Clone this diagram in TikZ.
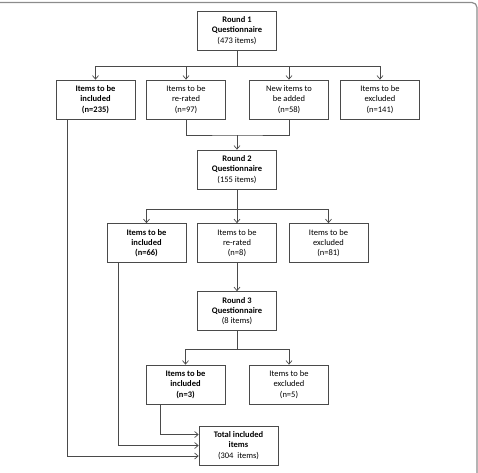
\documentclass[tikz,border=0pt]{standalone}
\usepackage{fontspec}
\setmainfont{Carlito}
\usepackage{tikz}
\usetikzlibrary{calc,arrows.meta}

\definecolor{linegray}{HTML}{4A4A4A}
\definecolor{framegray}{HTML}{8C8C8C}

\begin{document}
\begin{tikzpicture}[x=1pt, y=-1pt, >={Straight Barb[length=3.5pt,width=6pt]},
        box/.style={draw=linegray, line width=0.7pt, fill=white, minimum width=79pt,
            minimum height=39pt, align=center, inner sep=1pt,
            font=\fontsize{8.5}{10.2}\selectfont},
        link/.style={draw=linegray, line width=0.7pt}]
        \useasboundingbox (0,0) rectangle (478,472);

        % Outer frame
        \draw[framegray, line width=1.2pt, rounded corners=5pt] (0,2.5) -- (477,2.5) -- (477,473);

        % Round 1
        \node[box] (r1) at (237,30.5) {\textbf{Round 1}\\\textbf{Questionnaire}\\(473 items)};
        \node[box] (inc1) at (95.5,99.5) {\textbf{Items to be}\\\textbf{included}\\\textbf{(n=235)}};
        \node[box] (rer1) at (186,99.5) {Items to be\\re-rated\\(n=97)};
        \node[box] (new1) at (289,99.5) {New items to\\be added\\(n=58)};
        \node[box] (exc1) at (380,99.5) {Items to be\\excluded\\(n=141)};

        \coordinate (b1) at (237,66);
        \draw[link] (r1.south) -- (b1);
        \draw[link, ->] (b1) -| (inc1.north);
        \draw[link, ->] (b1) -| (rer1.north);
        \draw[link, ->] (b1) -| (new1.north);
        \draw[link, ->] (b1) -| (exc1.north);

        % Round 2
        \node[box] (r2) at (237,169.5) {\textbf{Round 2}\\\textbf{Questionnaire}\\(155 items)};
        \coordinate (m1) at (237,135);
        \draw[link] (rer1.south) |- (m1) -| (new1.south);
        \draw[link, ->] (m1) -- (r2.north);

        \node[box] (inc2) at (146.5,243) {\textbf{Items to be}\\\textbf{included}\\\textbf{(n=66)}};
        \node[box] (rer2) at (237,243) {Items to be\\re-rated\\(n=8)};
        \node[box] (exc2) at (328.5,243) {Items to be\\excluded\\(n=81)};

        \coordinate (b2) at (237,209);
        \draw[link] (r2.south) -- (b2);
        \draw[link, ->] (b2) -| (inc2.north);
        \draw[link, ->] (b2) -- (rer2.north);
        \draw[link, ->] (b2) -| (exc2.north);

        % Round 3
        \node[box] (r3) at (237,311) {\textbf{Round 3}\\\textbf{Questionnaire}\\(8 items)};
        \draw[link, ->] (rer2.south) -- (r3.north);

        \node[box] (inc3) at (185.5,384.5) {\textbf{Items to be}\\\textbf{included}\\\textbf{(n=3)}};
        \node[box] (exc3) at (289,384.5) {Items to be\\excluded\\(n=5)};

        \coordinate (b3) at (237,349);
        \draw[link] (r3.south) -- (b3);
        \draw[link, ->] (b3) -| (inc3.north);
        \draw[link, ->] (b3) -| (exc3.north);

        % Total
        \node[box] (tot) at (238.5,445.5) {\textbf{Total included}\\\textbf{items}\\(304~ items)};
        \draw[link, ->] ([xshift=-25.5pt]inc3.south) |- ([yshift=11pt]tot.west);
        \draw[link, ->] ([xshift=-28.5pt]inc2.south) |- (tot.west);
        \draw[link, ->] ([xshift=-28.5pt]inc1.south) |- ([yshift=-10.5pt]tot.west);
    \end{tikzpicture}
\end{document}
